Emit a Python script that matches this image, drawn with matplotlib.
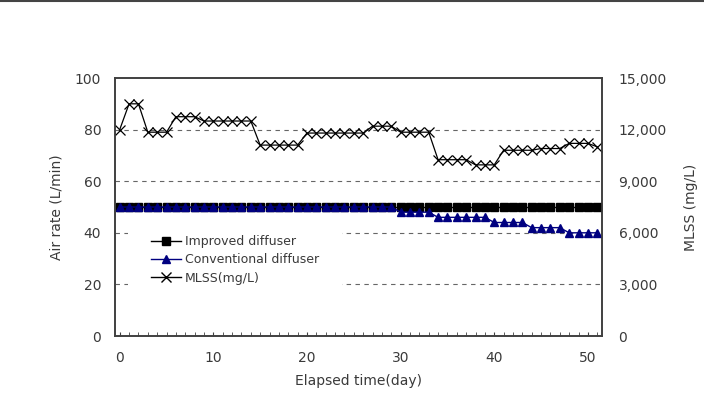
import numpy as np
import matplotlib.pyplot as plt
from matplotlib.lines import Line2D

plt.rcParams['font.family'] = ['DejaVu Sans']

# --- data ---
days = list(range(52))
improved = [50] * 52
conventional = [50] * 30 + [48] * 4 + [46] * 6 + [44] * 4 + [42] * 4 + [40] * 4
mlss = ([12000] + [13500] * 2 + [11850] * 3 + [12750] * 3 + [12500] * 6
        + [11100] * 5 + [11800] * 7 + [12200] * 3 + [11850] * 4
        + [10250] * 4 + [9950] * 3 + [10800] * 4 + [10900] * 3
        + [11200] * 3 + [11000])

left_ticks = [0, 20, 40, 60, 80, 100]
right_ticks = [0, 3000, 6000, 9000, 12000, 15000]
x_ticks = [0, 10, 20, 30, 40, 50]

txt = '#3a3a3a'
spine_c = '#404040'

fig = plt.figure(figsize=(7.04, 3.93), dpi=100)
ax = fig.add_axes([0.1634, 0.145, 0.6916, 0.6565])
ax2 = ax.twinx()

ax.plot(days, improved, color='black', marker='s', markersize=5.5, lw=1, zorder=3)
ax.plot(days, conventional, color='#000080', marker='^', markersize=5.5, lw=1, zorder=4)
ax2.plot(days, mlss, color='black', marker='x', markersize=7, mew=0.9, lw=0.9)

ax.set_xlim(-0.5, 51.5)
ax.set_ylim(0, 100)
ax2.set_ylim(0, 15000)

for y in left_ticks[1:-1]:
    ax.axhline(y, color='#666666', lw=0.8, ls=(0, (4, 4)), zorder=1)

ax.set_xticks(x_ticks)
ax.set_xticks(days, minor=True)
ax.tick_params(axis='x', which='both', direction='in', length=3, color=spine_c,
               labelsize=10, labelcolor=txt, pad=11)
ax.set_yticks(left_ticks)
ax.tick_params(axis='y', length=0, labelsize=10, labelcolor=txt, pad=10)
ax2.set_yticks(right_ticks)
ax2.set_yticklabels([f'{v:,}' for v in right_ticks])
ax2.tick_params(axis='y', length=0, labelsize=10, labelcolor=txt, pad=12)

for a in (ax, ax2):
    for s in a.spines.values():
        s.set_color(spine_c)
        s.set_linewidth(1.2)

ax.set_xlabel('Elapsed time(day)', fontsize=10, color=txt, labelpad=6)
ax.set_ylabel('Air rate (L/min)', fontsize=10, color=txt, labelpad=8)
ax2.set_ylabel('MLSS (mg/L)', fontsize=10, color=txt, labelpad=12)

handles = [
    Line2D([], [], color='black', marker='s', markersize=5.5, lw=1),
    Line2D([], [], color='#000080', marker='^', markersize=5.5, lw=1),
    Line2D([], [], color='black', marker='x', markersize=7, lw=1),
]
leg = ax2.legend(handles, ['Improved diffuser', 'Conventional diffuser', 'MLSS(mg/L)'],
                 loc='upper left', bbox_to_anchor=(0.027, 0.478), frameon=True,
                 fontsize=9, handlelength=2.4, labelspacing=0.42,
                 handletextpad=0.35, borderpad=1.8, borderaxespad=0)
leg.get_frame().set_edgecolor('none')
leg.get_frame().set_facecolor('white')
leg.get_frame().set_alpha(1)
for t in leg.get_texts():
    t.set_color(txt)

fig.add_artist(Line2D([0, 1], [0.998, 0.998], color='#444444', lw=1.5,
                      transform=fig.transFigure))

fig.savefig('out.png', dpi=100)
